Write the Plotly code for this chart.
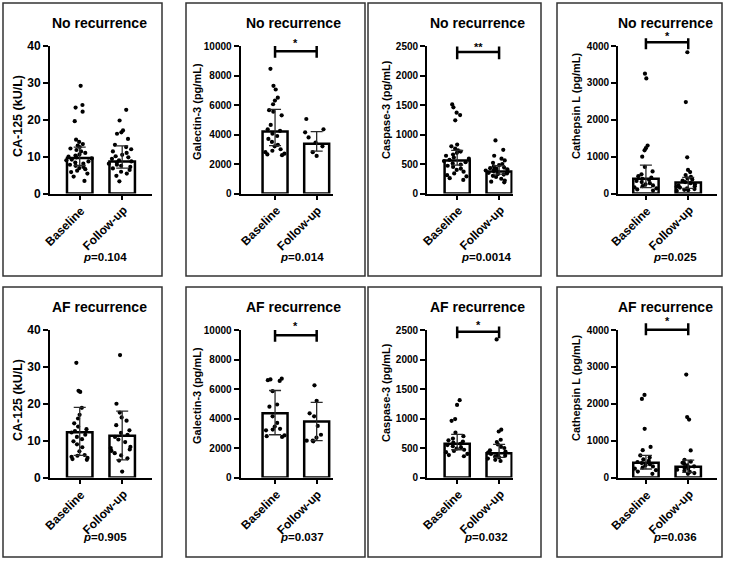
import plotly.graph_objects as go

W, H = 731, 562
FONT = "Liberation Sans, Arial, Helvetica, sans-serif"

groups = ["Baseline", "Follow-up"]

# ---------------- data ----------------
# CA-125 (kU/L)
ca125_norec_base = [29.2, 24.0, 23.3, 22.2, 19.6, 14.6, 14.0, 13.4, 13.0, 12.6, 12.2, 11.8, 11.4, 11.0,
                    10.6, 10.3, 10.0, 9.8, 9.5, 9.2, 9.0, 8.7, 8.4, 8.1, 7.8, 7.5, 7.2, 6.9, 6.6, 6.2,
                    5.8, 5.4, 4.6, 3.4]
ca125_norec_fu = [22.7, 19.8, 17.1, 16.6, 16.2, 14.8, 13.2, 12.6, 12.0, 11.4, 11.0, 10.5, 10.1, 9.8,
                  9.4, 9.0, 8.7, 8.4, 8.1, 7.8, 7.5, 7.2, 6.8, 6.4, 5.9, 5.4, 4.8, 3.3]
ca125_norec_bar = [9.6, 8.7]
ca125_norec_err_lo = [7.6, 6.9]
ca125_norec_err_hi = [12.6, 12.9]

ca125_af_base = [31.1, 23.5, 23.2, 18.9, 17.0, 16.0, 14.7, 13.8, 13.1, 12.6, 12.2, 11.6, 11.0, 10.4,
                 9.8, 9.0, 8.2, 7.1, 6.1, 5.9, 5.6, 5.3, 5.0, 4.8]
ca125_af_fu = [33.2, 20.0, 17.6, 16.3, 15.4, 14.2, 12.8, 12.1, 11.6, 11.0, 10.3, 9.6, 8.3, 8.0, 7.6,
               7.2, 6.6, 6.0, 5.2, 4.6, 1.6]
ca125_af_bar = [12.3, 11.3]
ca125_af_err_lo = [6.0, 4.8]
ca125_af_err_hi = [19.0, 18.0]

# Galectin-3 (pg/mL)
gal3_norec_base = [8450, 7300, 7050, 6500, 6300, 6050, 5650, 5550, 5300, 4650, 4350, 4250, 4050, 3900,
                   3700, 3500, 3300, 3200, 3000, 2900, 2800, 2700, 2650, 2600]
gal3_norec_fu = [5050, 4350, 4150, 3800, 3450, 3200, 2800, 2550]
gal3_norec_bar = [4200, 3380]
gal3_norec_err_lo = [3250, 2870]
gal3_norec_err_hi = [5700, 4200]

gal3_af_base = [6700, 6650, 6600, 6550, 5850, 4950, 4800, 4150, 3700, 3450, 3300, 3250, 3200, 2850,
                2800, 2750]
gal3_af_fu = [6250, 5200, 4350, 4150, 3500, 2900, 2700, 2500, 2500, 2450]
gal3_af_bar = [4350, 3800]
gal3_af_err_lo = [2900, 2500]
gal3_af_err_hi = [5900, 5100]

# Caspase-3 (pg/mL)
casp3_norec_base = [1510, 1460, 1370, 1330, 1240, 830, 800, 760, 730, 710, 690, 660, 640, 610, 590,
                    570, 550, 530, 510, 490, 470, 450, 420, 400, 370, 340, 310, 290, 260, 230]
casp3_norec_fu = [900, 740, 640, 590, 560, 520, 500, 480, 460, 440, 430, 420, 410, 400, 390, 380, 370,
                  360, 350, 340, 330, 320, 300, 280, 250, 220, 200, 190]
casp3_norec_bar = [560, 375]
casp3_norec_err_lo = [480, 330]
casp3_norec_err_hi = [730, 470]

casp3_af_base = [1310, 1230, 990, 960, 760, 700, 660, 630, 610, 590, 570, 550, 530, 510, 490, 470,
                 450, 430, 400, 380, 360]
casp3_af_fu = [2340, 810, 780, 640, 600, 560, 520, 500, 460, 440, 420, 400, 380, 370, 360, 340, 320,
               300, 280]
casp3_af_bar = [570, 410]
casp3_af_err_lo = [470, 340]
casp3_af_err_hi = [730, 560]

# Cathepsin L (pg/mL)
catl_norec_base = [3250, 3120, 1300, 1230, 1170, 1000, 720, 600, 520, 470, 430, 400, 370, 340, 310,
                   280, 250, 220, 200, 170, 140, 110, 80]
catl_norec_fu = [3830, 2480, 980, 640, 580, 500, 450, 410, 380, 350, 310, 280, 250, 220, 200, 180,
                 160, 140, 120, 100, 90, 70]
catl_norec_bar = [400, 300]
catl_norec_err_lo = [160, 140]
catl_norec_err_hi = [770, 440]

catl_af_base = [2240, 2130, 1320, 830, 740, 600, 540, 490, 450, 420, 390, 360, 330, 300, 270, 240,
                200, 160, 100]
catl_af_fu = [2790, 1640, 1570, 735, 480, 430, 400, 370, 330, 300, 270, 240, 210, 180, 150, 120, 100]
catl_af_bar = [400, 290]
catl_af_err_lo = [230, 140]
catl_af_err_hi = [600, 470]

# axis ticks, titles, p-values, significance brackets (lo, mid, hi) and star levels
yticks_ca125 = [0, 10, 20, 30, 40]
yticks_gal3 = [0, 2000, 4000, 6000, 8000, 10000]
yticks_casp3 = [0, 500, 1000, 1500, 2000, 2500]
yticks_catl = [0, 1000, 2000, 3000, 4000]

ytitles = ["CA-125 (kU/L)", "Galectin-3 (pg/mL)", "Caspase-3 (pg/mL)", "Cathepsin L (pg/mL)"]
row_titles = ["No recurrence", "AF recurrence"]
pvals_norec = ["0.104", "0.014", "0.0014", "0.025"]
pvals_af = ["0.905", "0.037", "0.032", "0.036"]
stars_norec = [None, "*", "**", "*"]
stars_af = [None, "*", "*", "*"]
brackets_norec = [None, [9200, 9650, 10000], [2275, 2400, 2490], [3910, 4100, 4208]]
brackets_af = [None, [9210, 9640, 10000], [2360, 2470, 2560], [3860, 4010, 4180]]
star_y_norec = [None, 10407, 2529, 4344]
star_y_af = [None, 10475, 2640, 4333]

# ---------------- layout geometry (pixels) ----------------
col_axis_px = [50, 240.5, 427, 618]
col_end_px = [151.5, 332.5, 512.5, 717]
col_xrange = [(-0.70, 1.69), (-0.83, 1.38), (-0.72, 1.32), (-0.66, 1.68)]
row_zero_px = [193.5, 477.5]
row_top_px = [46, 330]
box_x = [(3, 162), (186, 365), (368, 541), (557, 722)]
box_y = [(3, 276), (287, 557)]
title_right_px = [149, 343, 527, 715]
title_y_px = [23, 307]
p_x_px = [105, 302, 486, 675]
p_y_px = [257, 537]
ytitle_x_px = [18, 197, 386, 576]
ytitle_y_px = [[116, 112, 110, 106], [400, 396, 393, 388]]
EXT = 1.12  # headroom of the invisible axis used for brackets / stars

rows = [
    [
        (ca125_norec_base, ca125_norec_fu, ca125_norec_bar, ca125_norec_err_lo, ca125_norec_err_hi, yticks_ca125),
        (gal3_norec_base, gal3_norec_fu, gal3_norec_bar, gal3_norec_err_lo, gal3_norec_err_hi, yticks_gal3),
        (casp3_norec_base, casp3_norec_fu, casp3_norec_bar, casp3_norec_err_lo, casp3_norec_err_hi, yticks_casp3),
        (catl_norec_base, catl_norec_fu, catl_norec_bar, catl_norec_err_lo, catl_norec_err_hi, yticks_catl),
    ],
    [
        (ca125_af_base, ca125_af_fu, ca125_af_bar, ca125_af_err_lo, ca125_af_err_hi, yticks_ca125),
        (gal3_af_base, gal3_af_fu, gal3_af_bar, gal3_af_err_lo, gal3_af_err_hi, yticks_gal3),
        (casp3_af_base, casp3_af_fu, casp3_af_bar, casp3_af_err_lo, casp3_af_err_hi, yticks_casp3),
        (catl_af_base, catl_af_fu, catl_af_bar, catl_af_err_lo, catl_af_err_hi, yticks_catl),
    ],
]
pvals = [pvals_norec, pvals_af]
stars = [stars_norec, stars_af]
brackets = [brackets_norec, brackets_af]
star_ys = [star_y_norec, star_y_af]


def px_x(v):
    return v / W


def px_y(v):
    return 1 - v / H


fig = go.Figure()
shapes = []
annotations = []
layout_axes = {}

n = 0
for r in range(2):
    for c in range(4):
        n += 1
        sfx = "" if n == 1 else str(n)
        xa, ya = "x" + sfx, "y" + sfx
        base, fu, bar, elo, ehi, yticks = rows[r][c]
        top = yticks[-1]
        big = (c == 0)

        x0p, x1p = col_axis_px[c], col_end_px[c]
        zp, tp = row_zero_px[r], row_top_px[r]

        # bars
        fig.add_trace(go.Bar(
            x=groups, y=bar, xaxis=xa, yaxis=ya, width=0.6,
            marker=dict(color="white", line=dict(color="black", width=2.5)),
            hoverinfo="skip"))
        # individual points (library jitter)
        fig.add_trace(go.Box(
            x=[groups[0]] * len(base) + [groups[1]] * len(fu),
            y=base + fu, xaxis=xa, yaxis=ya,
            boxpoints="all", jitter=0.9, pointpos=0, width=0.72,
            fillcolor="rgba(0,0,0,0)", line=dict(color="rgba(0,0,0,0)", width=0),
            whiskerwidth=0,
            marker=dict(color="black", size=4.2, line=dict(width=0)),
            hoverinfo="skip"))
        # error bars
        fig.add_trace(go.Scatter(
            x=groups, y=bar, xaxis=xa, yaxis=ya, mode="markers",
            marker=dict(size=1, opacity=0),
            error_y=dict(type="data", symmetric=False,
                         array=[h - b for h, b in zip(ehi, bar)],
                         arrayminus=[b - l for l, b in zip(elo, bar)],
                         color="#2a2a2a", thickness=1.3, width=6),
            hoverinfo="skip"))

        # significance bracket on an invisible axis with the same scale but more headroom
        br = brackets[r][c]
        if br is not None:
            yb_id = str(n + 8)
            yb = "y" + yb_id
            lo, mid, hi = br
            fig.add_trace(go.Scatter(
                x=[groups[0]] * 3 + [groups[1]] * 3,
                y=[hi, lo, mid, mid, hi, lo], xaxis=xa, yaxis=yb, mode="lines",
                line=dict(color="black", width=2.5), hoverinfo="skip"))
            annotations.append(dict(
                x=0.5, y=star_ys[r][c], xref=xa, yref=yb, text=stars[r][c],
                showarrow=False, yanchor="middle", yshift=-3,
                font=dict(family=FONT, size=11, color="black", weight="bold")))
            dom_top = zp - (zp - tp) * EXT
            layout_axes["yaxis" + yb_id] = dict(
                domain=[px_y(zp), px_y(dom_top)], anchor=xa, range=[0, top * EXT],
                visible=False, showgrid=False, zeroline=False, automargin=False)

        # category labels (rotated), anchored under each tick
        for g in groups:
            annotations.append(dict(
                x=g, y=0, xref=xa, yref=ya, text=g, showarrow=False, textangle=-45,
                xanchor="right", yanchor="top", xshift=11, yshift=-7,
                font=dict(family=FONT, size=12, color="black", weight="bold")))

        layout_axes["xaxis" + sfx] = dict(
            domain=[px_x(x0p), px_x(x1p)], anchor=ya, type="category",
            categoryorder="array", categoryarray=groups, automargin=False,
            range=list(col_xrange[c]), showline=True, linecolor="black", linewidth=1.8,
            ticks="outside", ticklen=5, tickwidth=1.8, tickcolor="black",
            showticklabels=False, showgrid=False, zeroline=False)
        layout_axes["yaxis" + sfx] = dict(
            domain=[px_y(zp), px_y(tp)], anchor=xa, automargin=False,
            range=[0, top], showline=True, linecolor="black", linewidth=1.8,
            showgrid=False, zeroline=False,
            tickmode="array", tickvals=yticks, tickformat="d",
            ticks="outside", ticklen=5, tickwidth=1.8, tickcolor="black",
            tickfont=dict(family=FONT, size=12 if big else 10, color="black", weight="bold"))

        # panel frame
        bx0, bx1 = box_x[c]
        by0, by1 = box_y[r]
        shapes.append(dict(type="rect", xref="paper", yref="paper",
                           x0=px_x(bx0), x1=px_x(bx1), y0=px_y(by1), y1=px_y(by0),
                           line=dict(color="#333333", width=1.5), fillcolor="rgba(0,0,0,0)"))
        # panel title
        annotations.append(dict(
            x=px_x(title_right_px[c]), y=px_y(title_y_px[r]), xref="paper", yref="paper",
            xanchor="right", yanchor="middle", showarrow=False, text=row_titles[r],
            font=dict(family=FONT, size=14, color="black", weight="bold")))
        # p value
        annotations.append(dict(
            x=px_x(p_x_px[c]), y=px_y(p_y_px[r]), xref="paper", yref="paper",
            xanchor="center", yanchor="middle", showarrow=False,
            text="<i>p</i>=" + pvals[r][c],
            font=dict(family=FONT, size=11.5, color="black", weight="bold")))
        # y title
        annotations.append(dict(
            x=px_x(ytitle_x_px[c]), y=px_y(ytitle_y_px[r][c]), xref="paper", yref="paper",
            xanchor="center", yanchor="middle", showarrow=False, textangle=-90,
            text=ytitles[c],
            font=dict(family=FONT, size=12.5 if big else 11, color="black", weight="bold")))

fig.update_layout(
    template="none",
    width=W, height=H, margin=dict(l=0, r=0, t=0, b=0, pad=0, autoexpand=False),
    paper_bgcolor="white", plot_bgcolor="rgba(0,0,0,0)", showlegend=False,
    barmode="group", shapes=shapes, annotations=annotations,
    font=dict(family=FONT, color="black"),
    **layout_axes)

fig.write_html("out.html")
